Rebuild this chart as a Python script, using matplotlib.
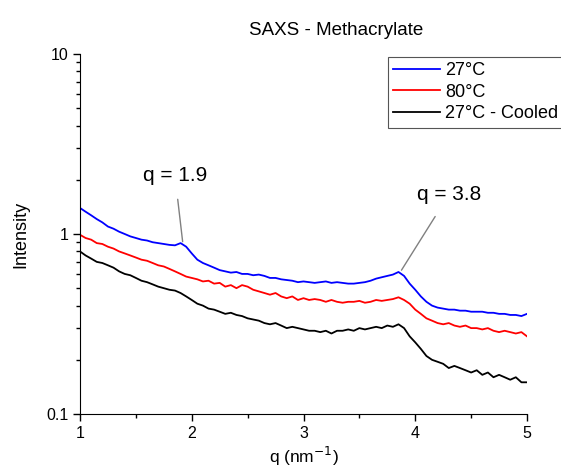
import numpy as np
import matplotlib
matplotlib.use('Agg')
import matplotlib.pyplot as plt
from matplotlib.ticker import MultipleLocator, LogLocator, NullFormatter

plt.rcParams['font.family'] = ['Liberation Sans', 'DejaVu Sans']

# q grid, step 0.05 nm^-1
q = np.round(np.arange(1.0, 5.0001, 0.05), 2)

# intensities
i_27 = [1.395, 1.33, 1.27, 1.21, 1.16, 1.10, 1.07, 1.03, 1.00, 0.97,
        0.95, 0.93, 0.92, 0.90, 0.89, 0.88, 0.87, 0.865, 0.89, 0.85,
        0.78, 0.72, 0.69, 0.67, 0.65, 0.63, 0.62, 0.61, 0.615, 0.60,
        0.60, 0.59, 0.595, 0.585, 0.57, 0.57, 0.56, 0.555, 0.55, 0.54,
        0.545, 0.54, 0.535, 0.54, 0.545, 0.535, 0.54, 0.535, 0.53, 0.53,
        0.535, 0.54, 0.55, 0.565, 0.575, 0.585, 0.595, 0.615, 0.585, 0.53,
        0.49, 0.45, 0.42, 0.40, 0.39, 0.385, 0.38, 0.38, 0.375, 0.375,
        0.37, 0.37, 0.37, 0.365, 0.365, 0.36, 0.36, 0.355, 0.355, 0.35,
        0.36]
i_80 = [0.99, 0.95, 0.93, 0.89, 0.88, 0.85, 0.83, 0.80, 0.78, 0.76,
        0.74, 0.72, 0.71, 0.69, 0.67, 0.66, 0.64, 0.62, 0.60, 0.58,
        0.57, 0.56, 0.545, 0.55, 0.53, 0.535, 0.51, 0.52, 0.50, 0.52,
        0.51, 0.49, 0.48, 0.47, 0.46, 0.47, 0.45, 0.44, 0.45, 0.43,
        0.44, 0.43, 0.435, 0.43, 0.42, 0.43, 0.42, 0.415, 0.42, 0.42,
        0.425, 0.415, 0.42, 0.43, 0.425, 0.43, 0.435, 0.445, 0.43, 0.41,
        0.38, 0.36, 0.34, 0.33, 0.32, 0.315, 0.32, 0.31, 0.305, 0.31,
        0.30, 0.30, 0.295, 0.30, 0.29, 0.285, 0.29, 0.285, 0.28, 0.285,
        0.27]
i_27c = [0.80, 0.76, 0.73, 0.70, 0.69, 0.67, 0.65, 0.62, 0.60, 0.59,
         0.57, 0.55, 0.54, 0.525, 0.51, 0.50, 0.49, 0.485, 0.47, 0.45,
         0.43, 0.41, 0.40, 0.385, 0.38, 0.37, 0.36, 0.365, 0.355, 0.35,
         0.34, 0.335, 0.33, 0.32, 0.315, 0.32, 0.31, 0.30, 0.305, 0.30,
         0.295, 0.29, 0.29, 0.285, 0.29, 0.28, 0.29, 0.29, 0.295, 0.29,
         0.30, 0.295, 0.30, 0.305, 0.30, 0.31, 0.305, 0.315, 0.30, 0.27,
         0.25, 0.23, 0.21, 0.20, 0.195, 0.19, 0.18, 0.185, 0.18, 0.175,
         0.17, 0.175, 0.165, 0.17, 0.16, 0.165, 0.16, 0.155, 0.16, 0.15,
         0.15]

labels = ['27°C', '80°C', '27°C - Cooled']
colors = ['#0000ff', '#ff0000', '#000000']

fig = plt.figure(figsize=(5.61, 4.72), dpi=100)
ax = fig.add_axes([0.1426, 0.1229, 0.7968, 0.7627])

for y, lab, c in zip([i_27, i_80, i_27c], labels, colors):
    ax.plot(q, y, color=c, lw=1.3, label=lab)

ax.set_yscale('log')
ax.set_xlim(1, 5)
ax.set_ylim(0.1, 10)
ax.xaxis.set_major_locator(MultipleLocator(1))
ax.xaxis.set_minor_locator(MultipleLocator(0.5))
ax.yaxis.set_minor_locator(LogLocator(base=10, subs=np.arange(2, 10)))
ax.yaxis.set_minor_formatter(NullFormatter())
ax.set_yticks([0.1, 1, 10])
ax.set_yticklabels(['0.1', '1', '10'])
ax.tick_params(which='major', direction='out', length=5, width=1, labelsize=11.5)
ax.tick_params(which='minor', direction='out', length=3, width=1)
ax.spines['top'].set_visible(False)
ax.spines['right'].set_visible(False)

ax.set_xlabel('q (nm$^{-1}$)', fontsize=12.5, labelpad=3)
ax.set_ylabel('Intensity', fontsize=13, labelpad=12)
ax.set_title('SAXS - Methacrylate', fontsize=13.5, pad=14, x=0.573)

ax.annotate('q = 1.9', xy=(1.92, 0.89), xytext=(1.85, 2.1), fontsize=15,
            ha='center', va='center',
            arrowprops=dict(arrowstyle='-', color='gray', lw=1, shrinkA=8, shrinkB=1))
ax.annotate('q = 3.8', xy=(3.87, 0.62), xytext=(4.30, 1.65), fontsize=15,
            ha='center', va='center',
            arrowprops=dict(arrowstyle='-', color='gray', lw=1, shrinkA=8, shrinkB=1))

leg = ax.legend(loc='upper left', bbox_to_anchor=(0.689, 0.992), fontsize=13,
                fancybox=False, edgecolor='#555555', framealpha=1,
                handlelength=2.6, handletextpad=0.25, labelspacing=0.25,
                borderpad=0.3, borderaxespad=0)
leg.get_frame().set_linewidth(0.8)

fig.savefig('out.png', dpi=100)
